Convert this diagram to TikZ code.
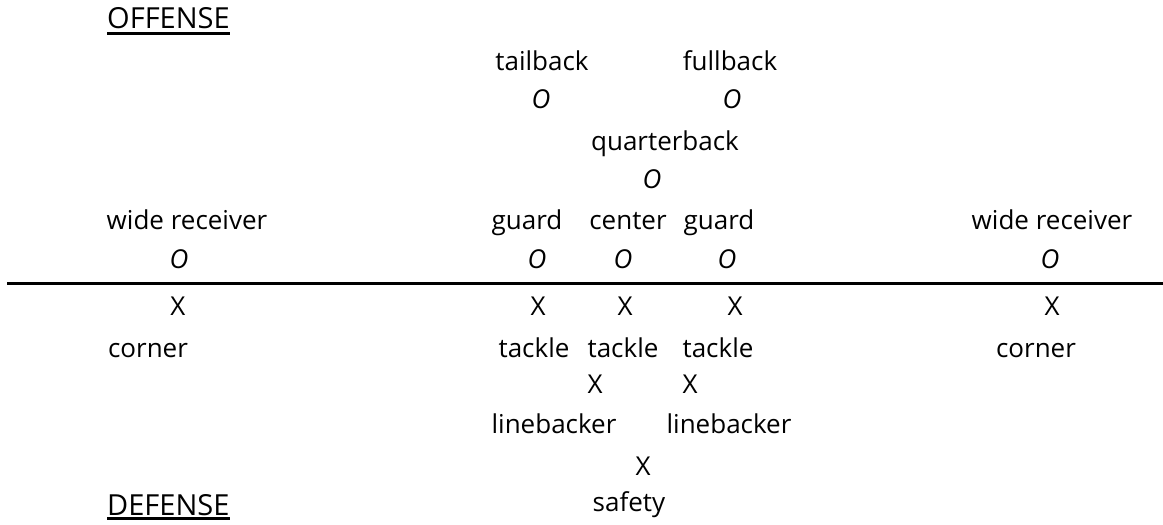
\documentclass[tikz,border=0pt]{standalone}
\usepackage{fontspec}
\setmainfont{Open Sans}
\begin{document}
\begin{tikzpicture}[x=1pt,y=-1pt,
  lbl/.style={inner sep=0pt,anchor=base,font=\fontsize{26}{30}\selectfont},
  omark/.style={lbl,font=\fontsize{26}{30}\selectfont\itshape},
  xmark/.style={lbl},
  head/.style={lbl,anchor=base west,font=\fontsize{29}{33}\selectfont},
  ul/.style={line width=3pt}]
\useasboundingbox (0,0) rectangle (1163,525);
% offense
\node[head] (off) at (107,28) {OFFENSE};
\draw[ul] ([yshift=-5.5pt]off.base west) -- ([yshift=-5.5pt]off.base east);
\node[lbl] (tb) at (542,70) {tailback};
\node[lbl] (fb) at (730,70) {fullback};
\node[omark] (otb) at (541,108) {O};
\node[omark] (ofb) at (732,108) {O};
\node[lbl] (qb) at (665,150) {quarterback};
\node[omark] (oqb) at (652,188) {O};
\node[lbl] (wrl) at (187,229) {wide receiver};
\node[lbl] (gl) at (527,229) {guard};
\node[lbl] (ce) at (628,229) {center};
\node[lbl] (gr) at (719,229) {guard};
\node[lbl] (wrr) at (1052,229) {wide receiver};
\node[omark] (owrl) at (179,268) {O};
\node[omark] (ogl) at (537,268) {O};
\node[omark] (oce) at (623,268) {O};
\node[omark] (ogr) at (727,268) {O};
\node[omark] (owrr) at (1050,268) {O};
% line of scrimmage
\coordinate (ls) at (7,283.5);
\coordinate (le) at (1163,283.5);
\draw[line width=3.5pt] (ls) -- (le);
% defense
\node[xmark] (xcl) at (178,315) {X};
\node[xmark] (xtl) at (538,315) {X};
\node[xmark] (xtc) at (625,315) {X};
\node[xmark] (xtr) at (735,315) {X};
\node[xmark] (xcr) at (1052,315) {X};
\node[lbl] (cl) at (148,357) {corner};
\node[lbl] (tl) at (534,357) {tackle};
\node[lbl] (tc) at (623,357) {tackle};
\node[lbl] (tr) at (718,357) {tackle};
\node[lbl] (cr) at (1036,357) {corner};
\node[xmark] (xlbl) at (595,393) {X};
\node[xmark] (xlbr) at (690,393) {X};
\node[lbl] (lbl) at (554,433) {linebacker};
\node[lbl] (lbr) at (729,433) {linebacker};
\node[xmark] (xs) at (643,475) {X};
\node[lbl] (sf) at (629,511) {safety};
\node[head] (def) at (107,515) {DEFENSE};
\draw[ul] ([yshift=-3.5pt]def.base west) -- ([yshift=-3.5pt]def.base east);
\end{tikzpicture}
\end{document}
